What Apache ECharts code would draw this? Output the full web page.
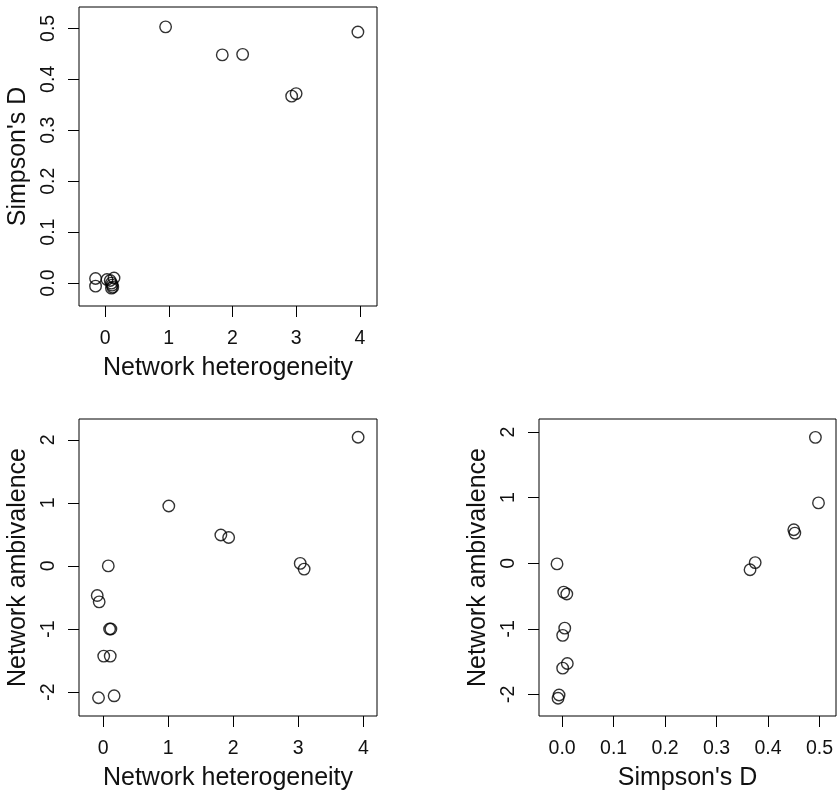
<!DOCTYPE html>
<html>
<head>
<meta charset="utf-8">
<script src="https://cdn.jsdelivr.net/npm/echarts@6/dist/echarts.min.js"></script>
<style>
  html, body { margin: 0; padding: 0; background: #fff; }
  #chart { width: 837px; height: 792px; }
</style>
</head>
<body>
<div id="chart"></div>
<script>
// Panel A: network heterogeneity vs Simpson's D
const hetA = [0.95, 1.84, 2.16, 2.93, 3.00, 3.97, -0.15, -0.15, 0.03, 0.08, 0.14, 0.10, 0.11, 0.10, 0.12];
const simpsonA = [0.503, 0.448, 0.449, 0.367, 0.372, 0.493, 0.009, -0.006, 0.007, 0.005, 0.010, 0.000, -0.004, -0.010, -0.008];

// Panel B: network heterogeneity vs network ambivalence
const hetB = [3.92, 1.01, 1.81, 1.93, 3.03, 3.09, 0.08, -0.09, -0.06, 0.10, 0.12, 0.01, 0.11, -0.07, 0.17];
const ambivB = [2.04, 0.95, 0.49, 0.45, 0.04, -0.05, 0.00, -0.47, -0.57, -1.00, -1.00, -1.43, -1.43, -2.09, -2.06];

// Panel C: Simpson's D vs network ambivalence
const simpsonC = [0.492, 0.498, 0.450, 0.452, 0.375, 0.365, -0.010, 0.003, 0.009, 0.005, 0.001, 0.010, 0.001, -0.006, -0.008];
const ambivC = [1.92, 0.92, 0.51, 0.46, 0.01, -0.10, -0.01, -0.44, -0.47, -0.99, -1.10, -1.53, -1.60, -2.01, -2.06];

// Tick positions
const hetTicks = [0, 1, 2, 3, 4];
const simpsonTicksY = [0.0, 0.1, 0.2, 0.3, 0.4, 0.5];
const simpsonTicksX = [0.0, 0.1, 0.2, 0.3, 0.4, 0.5];
const ambivTicks = [-2, -1, 0, 1, 2];

const FONT = '"Liberation Sans", Arial, Helvetica, sans-serif';
const INK = '#000';

function pairs(xs, ys) {
  return xs.map((x, i) => [x, ys[i]]);
}

function xAxisDef(grid, min, max, ticks, name, fmt) {
  return {
    type: 'value', gridIndex: grid, min: min, max: max,
    splitLine: { show: false },
    axisLine: { show: false, onZero: false },
    axisTick: { show: true, length: 11, customValues: ticks, lineStyle: { color: INK, width: 1 } },
    axisLabel: {
      customValues: ticks, margin: 23, fontSize: 19.5, fontFamily: FONT, color: '#111',
      formatter: fmt
    },
    name: name, nameLocation: 'middle', nameGap: 50,
    nameTextStyle: { fontSize: 25, fontFamily: FONT, color: '#111' }
  };
}

function yAxisDef(grid, min, max, ticks, name, fmt) {
  return {
    type: 'value', gridIndex: grid, min: min, max: max,
    splitLine: { show: false },
    axisLine: { show: false, onZero: false },
    axisTick: { show: true, length: 11, customValues: ticks, lineStyle: { color: INK, width: 1 } },
    axisLabel: {
      customValues: ticks, margin: 20, fontSize: 19.5, fontFamily: FONT, color: '#111',
      rotate: 90, formatter: fmt
    },
    name: name, nameLocation: 'middle', nameGap: 48,
    nameTextStyle: { fontSize: 25, fontFamily: FONT, color: '#111' }
  };
}

const intFmt = v => String(Math.round(v));
const decFmt = v => v.toFixed(1);

function scatter(x, y, data) {
  return {
    type: 'scatter', xAxisIndex: x, yAxisIndex: y, data: data,
    symbol: 'circle', symbolSize: 11.5,
    itemStyle: { color: 'transparent', borderColor: INK, borderWidth: 1.4 },
    emphasis: { disabled: true },
    silent: true
  };
}

const gridBase = { show: true, borderColor: INK, borderWidth: 1, backgroundColor: 'transparent' };

const chart = echarts.init(document.getElementById('chart'), null, { renderer: 'canvas' });
chart.setOption({
  animation: false,
  backgroundColor: '#fff',
  grid: [
    Object.assign({ left: 79, top: 7, width: 298, height: 299 }, gridBase),
    Object.assign({ left: 79, top: 419, width: 298, height: 298 }, gridBase),
    Object.assign({ left: 539, top: 419, width: 297, height: 298 }, gridBase)
  ],
  xAxis: [
    xAxisDef(0, -0.41, 4.27, hetTicks, 'Network heterogeneity', intFmt),
    xAxisDef(1, -0.37, 4.21, hetTicks, 'Network heterogeneity', intFmt),
    xAxisDef(2, -0.045, 0.532, simpsonTicksX, "Simpson's D", decFmt)
  ],
  yAxis: [
    yAxisDef(0, -0.045, 0.542, simpsonTicksY, "Simpson's D", decFmt),
    yAxisDef(1, -2.38, 2.33, ambivTicks, 'Network ambivalence', intFmt),
    yAxisDef(2, -2.33, 2.20, ambivTicks, 'Network ambivalence', intFmt)
  ],
  series: [
    scatter(0, 0, pairs(hetA, simpsonA)),
    scatter(1, 1, pairs(hetB, ambivB)),
    scatter(2, 2, pairs(simpsonC, ambivC))
  ]
});
</script>
</body>
</html>
